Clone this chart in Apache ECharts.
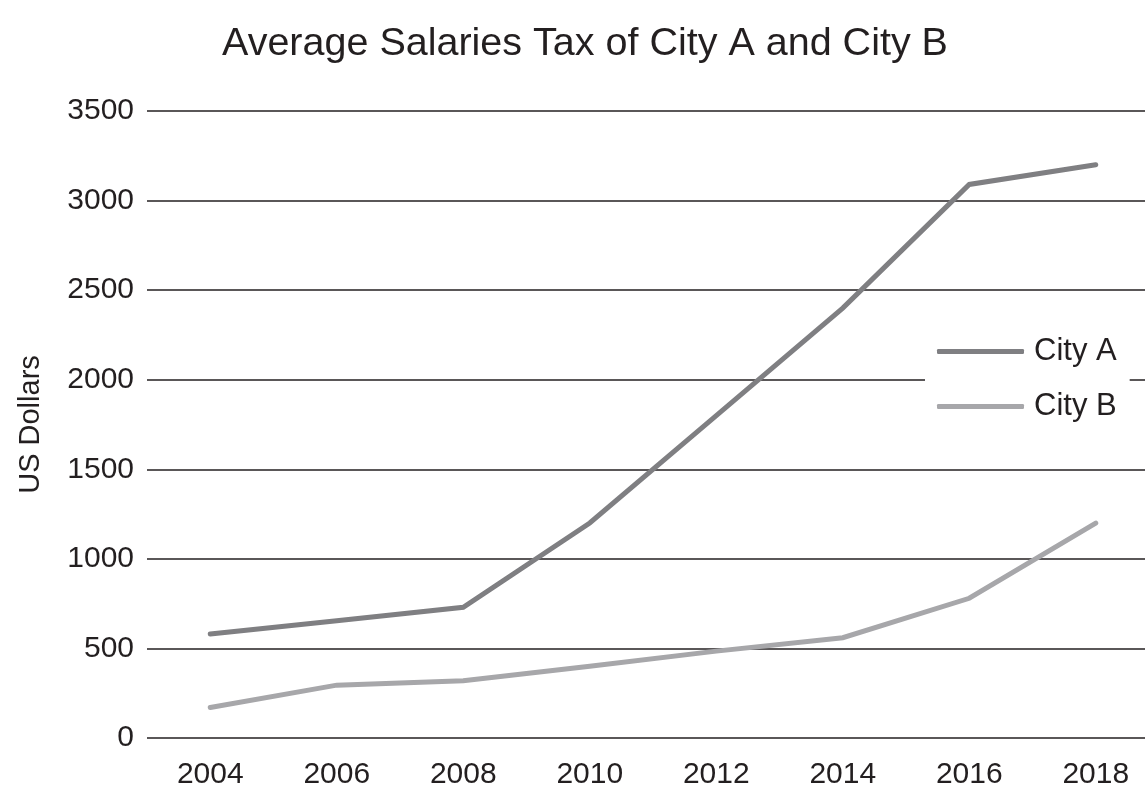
<!DOCTYPE html>
<html>
<head>
<meta charset="utf-8">
<script src="https://cdn.jsdelivr.net/npm/echarts@6/dist/echarts.min.js"></script>
<style>
  html, body { margin: 0; padding: 0; background: #fff; }
  #chart { width: 1145px; height: 791px; }
</style>
</head>
<body>
<div id="chart"></div>
<script>
// Average salaries tax, US dollars, by year
const years = ['2004', '2006', '2008', '2010', '2012', '2014', '2016', '2018'];
const cityA = [580, 655, 730, 1200, 1800, 2400, 3090, 3200];
const cityB = [170, 295, 320, 400, 485, 560, 780, 1200];
const seriesNames = ['City A', 'City B'];

const FONT = '"Liberation Sans", Arial, Helvetica, sans-serif';
const INK = '#231f20';
const chart = echarts.init(document.getElementById('chart'), null, { renderer: 'canvas' });

chart.setOption({
  animation: false,
  backgroundColor: '#ffffff',
  textStyle: { fontFamily: FONT, color: INK },
  title: {
    text: 'Average Salaries Tax of City A and City B',
    left: 217,
    top: 19,
    textStyle: { fontFamily: FONT, fontSize: 39.5, fontWeight: 'normal', color: INK }
  },
  legend: {
    data: seriesNames,
    orient: 'vertical',
    left: 925,
    top: 332,
    backgroundColor: '#ffffff',
    padding: [4, 13, 4, 12],
    itemGap: 24,
    itemWidth: 87,
    itemHeight: 5,
    icon: 'roundRect',
    textStyle: { fontFamily: FONT, fontSize: 31, color: INK, padding: [0, 0, 0, 5] }
  },
  // the plot area runs a little past the right edge of the canvas
  grid: {
    left: 147, right: -14, top: 111, bottom: 53,
    containLabel: false,
    outerBoundsMode: 'none'
  },
  xAxis: {
    type: 'category',
    data: years,
    boundaryGap: true,
    axisLine: { show: false },
    axisTick: { show: false },
    axisLabel: { fontFamily: FONT, fontSize: 30, color: INK, margin: 22 }
  },
  yAxis: {
    type: 'value',
    min: 0,
    max: 3500,
    interval: 500,
    name: 'US Dollars',
    nameLocation: 'middle',
    nameGap: 102,
    nameMoveOverlap: false,
    nameTextStyle: { fontFamily: FONT, fontSize: 29, color: INK },
    axisLine: { show: false },
    axisTick: { show: false },
    axisLabel: {
      fontFamily: FONT, fontSize: 30, color: INK, margin: 13,
      formatter: (v) => String(v)
    },
    splitLine: { lineStyle: { color: INK, width: 1.6 } }
  },
  series: [
    {
      name: seriesNames[0],
      type: 'line',
      data: cityA,
      symbol: 'none',
      z: 3,
      lineStyle: { color: '#7f7f82', width: 5, cap: 'round', join: 'miter' },
      itemStyle: { color: '#7f7f82' }
    },
    {
      name: seriesNames[1],
      type: 'line',
      data: cityB,
      symbol: 'none',
      z: 2,
      lineStyle: { color: '#a7a7aa', width: 5, cap: 'round', join: 'miter' },
      itemStyle: { color: '#a7a7aa' }
    }
  ]
});
</script>
</body>
</html>
